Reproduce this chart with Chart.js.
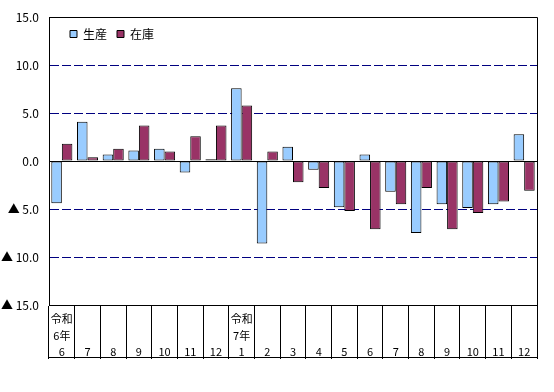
<!DOCTYPE html>
<html>
<head>
<meta charset="utf-8">
<script src="https://cdn.jsdelivr.net/npm/chart.js@4/dist/chart.umd.min.js"></script>
<style>
html,body{margin:0;padding:0;background:#fff;}
#wrap{width:554px;height:392px;}
</style>
</head>
<body>
<div id="wrap"><canvas id="c" width="554" height="392"></canvas></div>
<script>
// Data
const eraLabels   = ['令和','','','','','','','令和','','','','','','','','','','',''];
const yearLabels  = ['6年','','','','','','','7年','','','','','','','','','','',''];
const monthLabels = ['6','7','8','9','10','11','12','1','2','3','4','5','6','7','8','9','10','11','12'];
const seriesNames = ['生産','在庫'];
const production = [-4.4, 4.1, 0.7, 1.1, 1.3, -1.2, 0.2, 7.6, -8.6, 1.5, -0.9, -4.8, 0.7, -3.2, -7.5, -4.5, -4.9, -4.5, 2.8];
const inventory  = [1.8, 0.4, 1.3, 3.7, 1.0, 2.6, 3.7, 5.8, 1.0, -2.2, -2.8, -5.2, -7.1, -4.5, -2.8, -7.1, -5.4, -4.2, -3.1];
const yTicks = [-15, -10, -5, 0, 5, 10, 15];

const labels = monthLabels.map((m, i) => [eraLabels[i], yearLabels[i], m]);
const JFONT = "'Noto Sans CJK JP', 'Liberation Sans', sans-serif";

// Let the legend float over the plot instead of taking layout space
const LegendEl = Chart.Legend && Chart.Legend._element;
if (LegendEl) {
  const origFit = LegendEl.prototype.fit;
  LegendEl.prototype.fit = function () { origFit.call(this); this.height = 0; };
}

const framePlugin = {
  id: 'frame',
  afterLayout(chart) {
    const lg = chart.legend;
    if (lg) {
      lg.left = 60; lg.right = 400;
      lg.top = 18; lg.bottom = 50;
      lg.width = 340; lg.height = 32;
    }
  },
  afterDraw(chart) {
    const {ctx, chartArea} = chart;
    const xs = chart.scales.x;
    ctx.save();
    ctx.strokeStyle = '#000';
    ctx.lineWidth = 1;
    ctx.beginPath();
    ctx.moveTo(chartArea.left, Math.round(chartArea.top) + 0.5);
    ctx.lineTo(Math.round(chartArea.right) + 0.5, Math.round(chartArea.top) + 0.5);
    ctx.lineTo(Math.round(chartArea.right) + 0.5, Math.round(chartArea.bottom));
    ctx.moveTo(chartArea.left, Math.round(xs.bottom) + 0.5);
    ctx.lineTo(Math.round(chartArea.right) + 1, Math.round(xs.bottom) + 0.5);
    ctx.stroke();
    ctx.restore();
  }
};

new Chart(document.getElementById('c'), {
  type: 'bar',
  data: {
    labels: labels,
    datasets: [
      { label: seriesNames[0], data: production, backgroundColor: '#99CCFF', borderColor: '#000', borderWidth: 1, borderSkipped: false },
      { label: seriesNames[1], data: inventory,  backgroundColor: '#993366', borderColor: '#000', borderWidth: 1, borderSkipped: false }
    ]
  },
  options: {
    responsive: false,
    devicePixelRatio: 1,
    animation: false,
    layout: { padding: { top: 17, right: 17, bottom: 35, left: 0 } },
    datasets: { bar: { categoryPercentage: 0.82, barPercentage: 1.0 } },
    plugins: {
      legend: {
        position: 'top',
        align: 'start',
        labels: { boxWidth: 7, boxHeight: 7, padding: 10, color: '#000', font: { family: JFONT, size: 12 } }
      },
      tooltip: { enabled: false }
    },
    scales: {
      x: {
        offset: true,
        grid: { offset: true, drawOnChartArea: false, drawTicks: true, tickLength: 54, tickColor: '#000', tickWidth: 1, color: '#000' },
        border: { display: true, color: '#000', width: 1 },
        ticks: { autoSkip: false, maxRotation: 0, minRotation: 0, padding: -48, color: '#000', font: { family: JFONT, size: 11, lineHeight: '16.5px' } },
        afterFit: s => { s.height = 52; }
      },
      y: {
        min: -15, max: 15,
        afterBuildTicks: s => { s.ticks = yTicks.map(v => ({ value: v })); },
        ticks: {
          padding: 10, color: '#000', font: { family: JFONT, size: 12 },
          callback: v => v < 0 ? '▲ ' + Math.abs(v).toFixed(1) : v.toFixed(1)
        },
        grid: {
          drawTicks: false, lineWidth: 1,
          color: ctx => {
            const v = ctx.tick ? ctx.tick.value : null;
            if (v === 0) return '#000';
            if (v === 15 || v === -15) return 'rgba(0,0,0,0)';
            return '#000080';
          }
        },
        border: {
          display: true, color: '#000', width: 1,
          dash: ctx => (ctx.tick && ctx.tick.value !== 0) ? [9, 3] : []
        },
        afterFit: s => { s.width = 49; }
      }
    }
  },
  plugins: [framePlugin]
});
</script>
</body>
</html>
